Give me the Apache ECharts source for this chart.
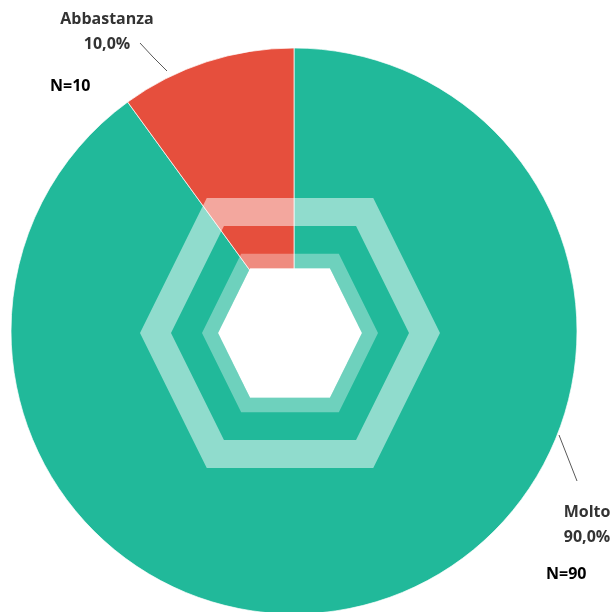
<!DOCTYPE html>
<html>
<head>
<meta charset="utf-8">
<script src="https://cdn.jsdelivr.net/npm/echarts@6/dist/echarts.min.js"></script>
<style>html,body{margin:0;padding:0;background:#fff;}#c{width:616px;height:612px;}</style>
</head>
<body>
<div id="c"></div>
<script>
// Data
const categories = ['Molto', 'Abbastanza'];
const values = [90, 10];
const counts = [90, 10];
const colors = ['#21B99A', '#E64F3D'];

const chart = echarts.init(document.getElementById('c'));

// decorative hexagon overlay (centered in the pie)
const hx = 290, hy = 333;
function hex(w) {
  const c = w * 0.555, h = w * 0.9;
  return [[hx - w, hy], [hx - c, hy - h], [hx + c, hy - h], [hx + w, hy], [hx + c, hy + h], [hx - c, hy + h]];
}
function band(wOut, wIn) {
  const o = hex(wOut), i = hex(wIn);
  const pts = o.concat([o[0]]);
  const ir = [i[0]].concat(i.slice(1).reverse()).concat([i[0]]);
  return pts.concat(ir);
}

const labelPos = {
  'Abbastanza': { x: 107, y: 32, line: [[167, 71], [153, 57], [140, 43]] },
  'Molto': { x: 587, y: 525, line: [[559, 435], [568, 458], [577, 481]] }
};

chart.setOption({
  animation: false,
  series: [{
    type: 'pie',
    center: [294, 331],
    radius: 283,
    startAngle: 90,
    clockwise: true,
    data: categories.map((n, i) => ({ name: n, value: values[i], itemStyle: { color: colors[i] } })),
    itemStyle: { borderColor: 'rgba(255,255,255,0.7)', borderWidth: 1 },
    label: {
      show: true,
      position: 'outside',
      formatter: p => p.name + '\n' + p.percent.toFixed(1).replace('.', ',') + '%',
      color: '#333333',
      fontFamily: 'Open Sans',
      fontWeight: 'bold',
      fontSize: 16,
      lineHeight: 25,
      align: 'center'
    },
    labelLine: { show: true, length: 10, length2: 10, lineStyle: { color: '#595959', width: 1 } },
    labelLayout: function (p) {
      const lp = labelPos[categories[p.dataIndex]];
      return { x: lp.x, y: lp.y, align: 'center', verticalAlign: 'middle', labelLinePoints: lp.line, fontSize: 16 };
    },
    emphasis: { disabled: true }
  }],
  graphic: [
    { type: 'polygon', silent: true, z: 10, shape: { points: band(150, 119) }, style: { fill: 'rgba(255,255,255,0.5)' } },
    { type: 'polygon', silent: true, z: 10, shape: { points: band(88, 72) }, style: { fill: 'rgba(255,255,255,0.35)' } },
    { type: 'polygon', silent: true, z: 10, shape: { points: hex(72) }, style: { fill: '#ffffff' } },
    { type: 'text', silent: true, z: 10, left: 50, top: 78, style: { text: 'N=' + counts[1], fill: '#000', font: 'bold 16px "Open Sans"' } },
    { type: 'text', silent: true, z: 10, left: 546, top: 566, style: { text: 'N=' + counts[0], fill: '#000', font: 'bold 16px "Open Sans"' } }
  ]
});
</script>
</body>
</html>
